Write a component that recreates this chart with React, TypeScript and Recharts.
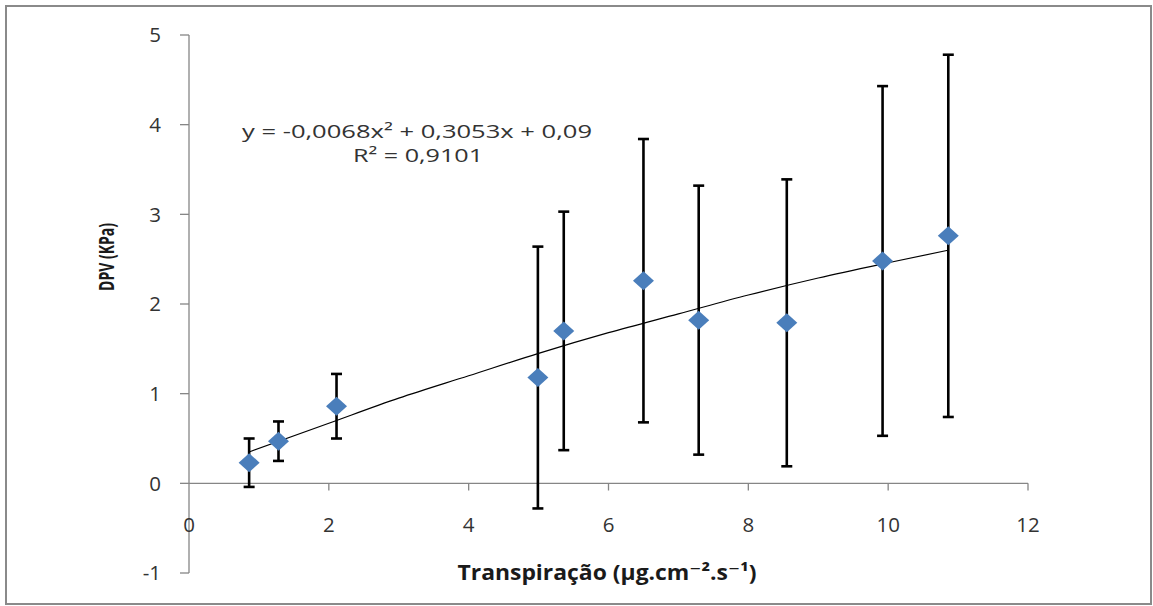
import React from 'react';
import { ComposedChart, Scatter, Line, XAxis, YAxis, ErrorBar, ReferenceLine } from 'recharts';

const transpiracao = [0.86, 1.28, 2.11, 4.99, 5.36, 6.5, 7.29, 8.55, 9.92, 10.86];
const dpv = [0.23, 0.47, 0.86, 1.18, 1.7, 2.26, 1.82, 1.79, 2.48, 2.76];
const dpvErr = [0.27, 0.22, 0.36, 1.46, 1.33, 1.58, 1.5, 1.6, 1.95, 2.02];
const trendX = [0.86, 2, 3, 4, 5, 6, 7, 8, 9, 10, 10.86];
const trendY = [0.35, 0.67, 0.95, 1.2, 1.45, 1.68, 1.89, 2.1, 2.29, 2.46, 2.6];
const xTicks = [0, 2, 4, 6, 8, 10, 12];
const yTicks = [-1, 0, 1, 2, 3, 4, 5];
const equationText = 'y = -0,0068x² + 0,3053x + 0,09';
const r2Text = 'R² = 0,9101';
const xTitle = 'Transpiração (µg.cm⁻².s⁻¹)';
const yTitle = 'DPV (KPa)';

const points = transpiracao.map((x, i) => ({ x, y: dpv[i], err: dpvErr[i] }));
const trend = trendX.map((x, i) => ({ x, t: trendY[i] }));

const FONT = '"Open Sans", "DejaVu Sans", sans-serif';
const AXIS = '#868686';

const Diamond = (props: any) => {
  const { cx, cy } = props;
  if (cx == null || cy == null) return null;
  return (
    <polygon
      points={`${cx},${cy - 9.5} ${cx + 10.5},${cy} ${cx},${cy + 9.5} ${cx - 10.5},${cy}`}
      fill="#4A7EBB"
    />
  );
};

const XTick = (props: any) => {
  const { x, y, payload } = props;
  return (
    <text x={x} y={y - 41} textAnchor="middle" fontSize={20.5} fill="#333" fontFamily={FONT}>
      {payload.value}
    </text>
  );
};

export default function App() {
  return (
    <div style={{ position: 'absolute', left: 0, top: 0, width: 1153, height: 606, background: '#fff' }}>
      <ComposedChart
        width={1153}
        height={606}
        margin={{ top: 35, right: 125, bottom: 0, left: 0 }}
      >
        <XAxis
          type="number"
          dataKey="x"
          domain={[0, 12]}
          ticks={xTicks}
          interval={0}
          height={33}
          axisLine={false}
          tickLine={false}
          tickSize={0}
          tickMargin={0}
          tick={<XTick />}
        />
        <YAxis
          type="number"
          domain={[-1, 5]}
          ticks={yTicks}
          interval={0}
          width={189}
          axisLine={{ stroke: AXIS, strokeWidth: 1.3 }}
          tickLine={{ stroke: AXIS, strokeWidth: 1.3 }}
          tickSize={9}
          tickMargin={19}
          tick={{ fontSize: 20.5, fill: '#333', fontFamily: FONT }}
        />
        <ReferenceLine y={0} stroke={AXIS} strokeWidth={1.3} />
        {xTicks.slice(1).map((t) => (
          <ReferenceLine
            key={t}
            segment={[{ x: t, y: 0 }, { x: t, y: -0.08 }]}
            stroke={AXIS}
            strokeWidth={1.3}
            ifOverflow="visible"
          />
        ))}
        <Scatter data={points} dataKey="y" shape={<Diamond />} isAnimationActive={false}>
          <ErrorBar dataKey="err" direction="y" width={5.5} stroke="#000" strokeWidth={2.6} />
        </Scatter>
        <Line
          data={trend}
          dataKey="t"
          type="monotone"
          dot={false}
          stroke="#000"
          strokeWidth={1.2}
          isAnimationActive={false}
        />
      </ComposedChart>
      <svg
        width={1153}
        height={606}
        style={{ position: 'absolute', left: 0, top: 0, pointerEvents: 'none' }}
      >
        <rect x={6} y={6} width={1145} height={598} fill="none" stroke="#8a8a8a" strokeWidth={2} />
        <text
          x={417}
          y={138}
          textAnchor="middle"
          fontSize={18.5}
          fill="#333"
          fontFamily={FONT}
          textLength={350}
          lengthAdjust="spacingAndGlyphs"
        >
          {equationText}
        </text>
        <text
          x={418}
          y={162}
          textAnchor="middle"
          fontSize={18.5}
          fill="#333"
          fontFamily={FONT}
          textLength={130}
          lengthAdjust="spacingAndGlyphs"
        >
          {r2Text}
        </text>
        <text
          x={607}
          y={580}
          textAnchor="middle"
          fontSize={21}
          fontWeight="bold"
          fill="#1a1a1a"
          fontFamily={FONT}
          textLength={299}
          lengthAdjust="spacingAndGlyphs"
        >
          {xTitle}
        </text>
        <text
          x={114}
          y={257}
          transform="rotate(-90 114 257)"
          textAnchor="middle"
          fontSize={22}
          fontWeight="bold"
          fill="#1a1a1a"
          fontFamily={FONT}
          textLength={68}
          lengthAdjust="spacingAndGlyphs"
        >
          {yTitle}
        </text>
      </svg>
    </div>
  );
}
